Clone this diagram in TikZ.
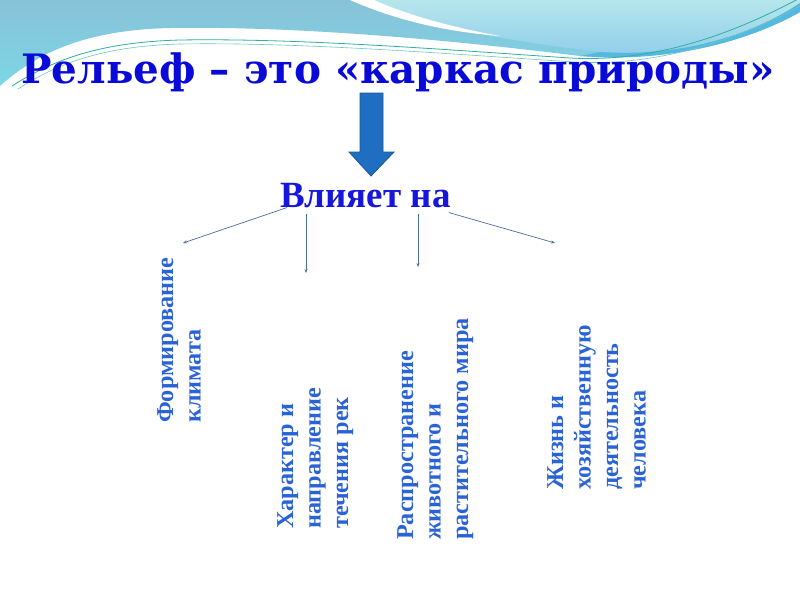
\documentclass[tikz,border=0pt]{standalone}
\usepackage{fontspec}
\setmainfont{Liberation Serif}
\newfontfamily\headfont{DejaVu Serif}
\usetikzlibrary{arrows.meta, positioning, calc}
\definecolor{skytop}{HTML}{88C2D8}
\definecolor{skylow}{HTML}{7CD6E6}
\definecolor{palesky}{HTML}{B6E6EC}
\definecolor{palelow}{HTML}{8ECDEA}
\definecolor{deepband}{HTML}{55B8E0}
\definecolor{tealline}{HTML}{2FAFA0}
\definecolor{titleblue}{HTML}{0A0AD8}
\definecolor{hubblue}{HTML}{1616DC}
\definecolor{factorblue}{HTML}{2A63D6}
\definecolor{arrowfill}{HTML}{1F6EC2}
\definecolor{arrowedge}{HTML}{1B5899}
\definecolor{linkgrey}{HTML}{4D6C9C}

\begin{document}
\begin{tikzpicture}[
  x=1pt, y=-1pt,
  headline/.style={font=\headfont\bfseries\fontsize{40.5}{46}\selectfont, text=titleblue, inner sep=0pt},
  hubtext/.style={font=\bfseries\fontsize{37}{42}\selectfont, text=hubblue, inner sep=0pt},
  factor/.style={rotate=90, anchor=north west, align=left, inner sep=0pt,
    text=factorblue, font=\bfseries\fontsize{24.2}{27.5}\selectfont},
  link/.style={-{Stealth[length=4pt, width=3pt]}, color=linkgrey, line width=0.7pt}
]
\useasboundingbox (0,0) rectangle (800,600);
\fill[white] (0,0) rectangle (800,600);

% wave at the top
\shade[top color=skytop, bottom color=skylow]
  (0,0) -- (0,86) .. controls (40,50) and (90,30) .. (170,28)
  .. controls (300,26) and (450,40) .. (580,56)
  .. controls (680,64) and (760,35) .. (800,12) -- (800,0) -- cycle;
\shade[top color=palesky, bottom color=palelow]
  (360,0) .. controls (420,25) and (500,40) .. (600,52)
  .. controls (690,58) and (760,30) .. (800,3) -- (800,0) -- cycle;
\fill[deepband] (600,52) .. controls (690,58) and (760,30) .. (800,3)
  -- (800,12) .. controls (760,35) and (680,64) .. (580,56) -- cycle;
\fill[white] (350,0) .. controls (400,22) and (450,32) .. (500,36)
  .. controls (450,27) and (405,14) .. (374,0) -- cycle;
\draw[tealline, line width=0.8pt] (12,86) .. controls (60,55) and (110,42) .. (180,40)
  .. controls (300,38) and (450,50) .. (570,58) .. controls (660,63) and (740,30) .. (800,-2);
\draw[tealline!70, line width=0.6pt] (18,89) .. controls (64,59) and (112,46) .. (180,44)
  .. controls (300,42) and (450,54) .. (574,62) .. controls (664,67) and (744,36) .. (800,6);

\node[headline, anchor=base] (title) at (398,83) {Рельеф – это «каркас природы»};

% big arrow
\filldraw[fill=arrowfill, draw=arrowedge, line width=0.8pt]
  (360,93) -- (383,93) -- (383,152) -- (394,152) -- (371,176) -- (349,152) -- (360,152) -- cycle;

\node[hubtext, anchor=base west] (hub) at (280,207) {Влияет на};

\coordinate (e1) at (183,243);
\coordinate (e2) at (306,273);
\coordinate (e3) at (418,267);
\coordinate (e4) at (555,243);
\draw[link] ($(hub.south west)+(7,0)$) -- (e1);
\draw[link] ($(hub.south -| e2)+(0,6)$) -- (e2);
\draw[link] ($(hub.south -| e3)+(0,6)$) -- (e3);
\draw[link] ($(hub.south east)+(-2,5)$) -- (e4);

\node[factor] (climate) at (157,423) {Формирование\\климата};
\node[factor] (rivers) at (277,529) {Характер и\\направление\\течения рек};
\node[factor] (biota) at (397,540) {Распространение\\животного и\\растительного мира};
\node[factor] (people) at (547,490) {Жизнь и\\хозяйственную\\деятельность\\человека};
\end{tikzpicture}
\end{document}
